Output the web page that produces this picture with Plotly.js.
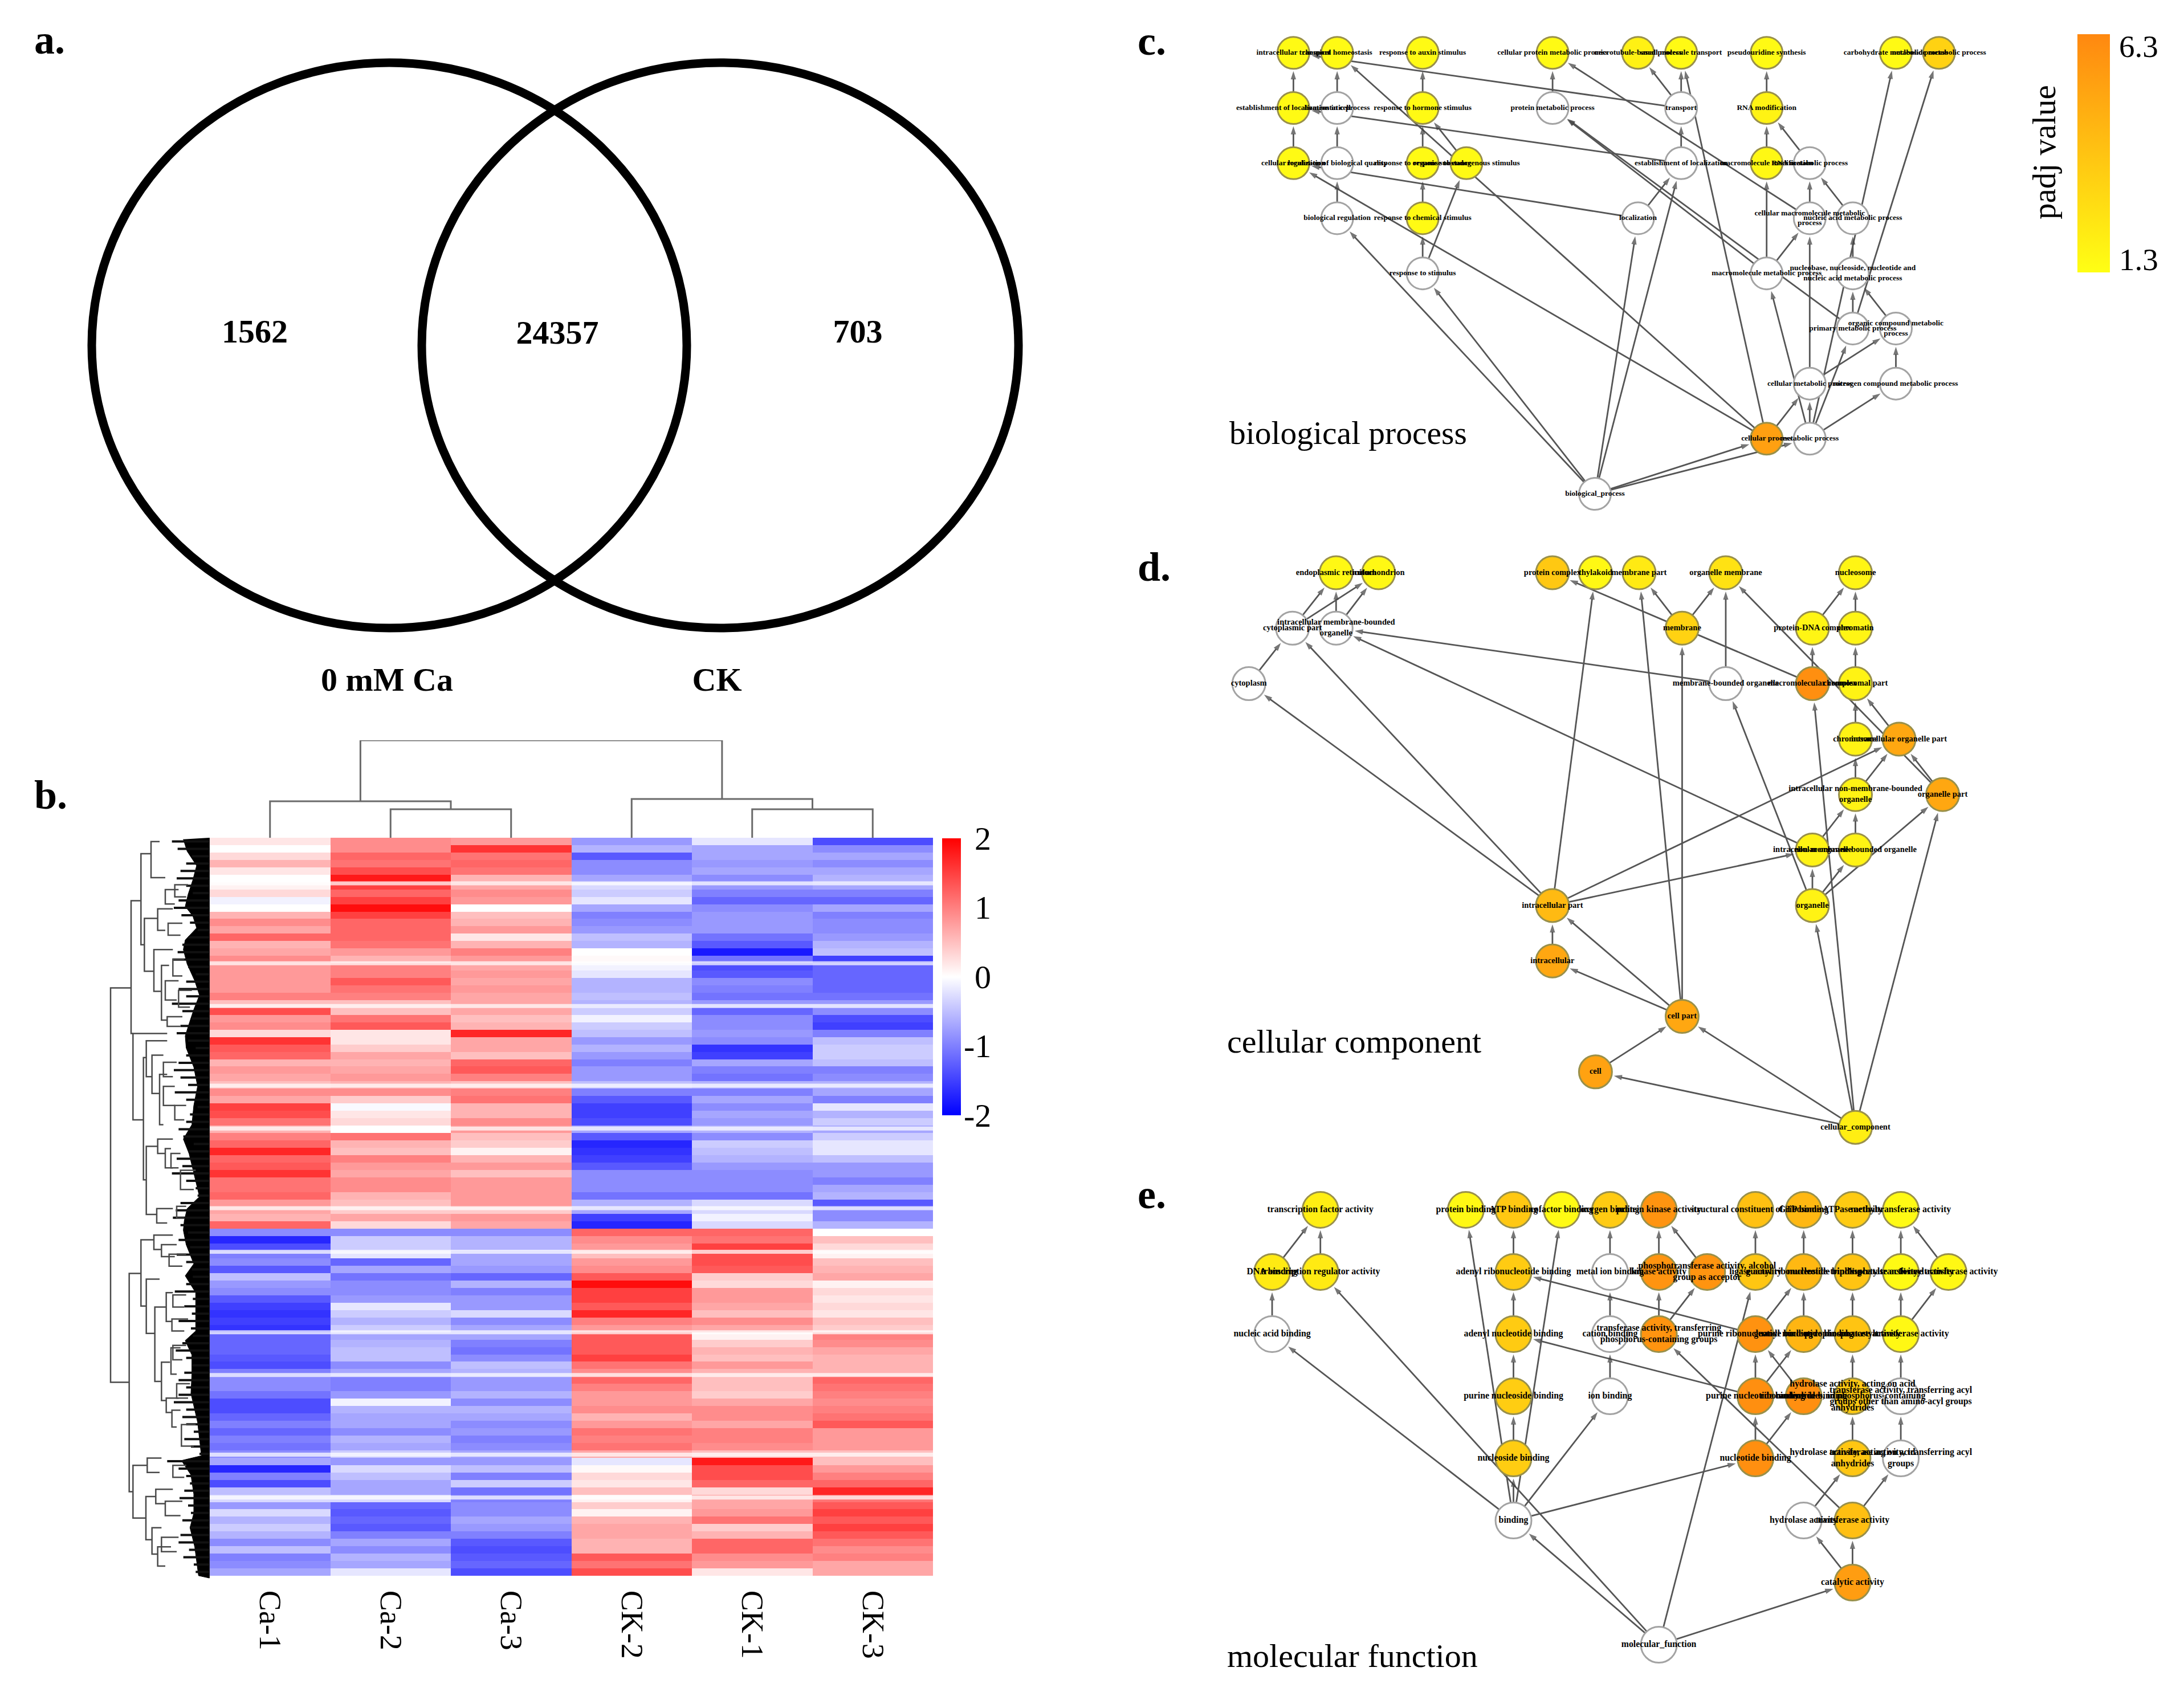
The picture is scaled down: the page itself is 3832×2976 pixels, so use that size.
<!DOCTYPE html>
<html><head><meta charset="utf-8">
<script src="https://cdn.plot.ly/plotly-3.0.1.min.js"></script>
<style>html,body{margin:0;padding:0;background:#fff}</style></head>
<body><div id="chart" style="width:3832px;height:2976px"></div>
<script>
const W=3832,H=2976,SERIF='"Liberation Serif","Times New Roman",serif';

/* ---------- panel a: Venn ---------- */
const vennCounts=['1562','24357','703'];
const vennCountX=[447,978,1505];
const vennCountY=[586,588,586];
const vennSetNames=['0 mM Ca','CK'];
const vennSetX=[679,1258];
const vennSetY=[1197,1197];
const vennCircleX0=[161,740], vennCircleX1=[1205,1787];
const vennCircleY0=[110,110], vennCircleY1=[1102,1102];

/* ---------- panel b: heat map ---------- */
const sampleNames=['Ca-1','Ca-2','Ca-3','CK-2','CK-1','CK-3'];
const heatRows=[
[0.2,0.9,0.8,-0.8,-0.2,-1.4],[0.0,0.9,1.6,-0.6,-0.7,-0.9],[0.3,1.2,1.1,-1.3,-0.7,-0.7],[0.6,1.1,1.2,-0.9,-0.8,-0.9],[0.2,1.4,1.1,-0.9,-0.7,-0.7],
[0.0,1.8,0.6,-0.7,-0.9,-0.6],[0.1,1.5,0.7,-0.3,-0.8,-0.7],[0.3,1.2,0.9,-0.4,-1.0,-1.0],[-0.1,1.5,0.8,-0.2,-1.2,-1.2],[0.0,1.9,0.0,-0.7,-0.9,-0.7],
[0.6,1.5,0.5,-1.0,-0.8,-1.0],[0.9,1.2,0.6,-0.9,-0.8,-0.9],[0.7,1.2,0.8,-0.8,-0.8,-0.9],[1.2,1.2,0.2,-0.5,-1.1,-0.8],[0.6,1.1,0.6,-0.6,-1.3,-0.6],
[0.7,0.8,1.0,0.0,-1.8,-0.5],[0.9,0.6,0.8,0.05,-1.1,-1.5],[0.8,1.0,0.7,-0.1,-1.4,-1.2],[0.8,1.0,0.8,-0.2,-1.3,-1.2],[0.8,1.3,0.7,-0.6,-0.9,-1.2],
[0.8,1.1,0.8,-0.6,-1.0,-1.2],[1.0,1.0,0.7,-0.5,-1.1,-1.1],[0.5,0.5,0.7,-0.6,-0.8,-0.8],[1.4,0.5,0.7,-0.4,-1.2,-0.9],[0.8,1.1,0.5,-0.1,-0.9,-1.4],
[0.9,1.3,0.6,-0.4,-0.9,-1.5],[0.3,0.2,1.7,-0.5,-0.8,-1.0],[1.6,0.2,0.7,-0.8,-0.9,-0.5],[1.3,0.4,0.7,-0.6,-1.6,-0.4],[1.2,0.7,0.5,-0.8,-1.5,-0.4],
[0.6,0.6,1.2,-1.0,-0.7,-0.5],[0.8,0.7,1.3,-0.8,-1.0,-1.0],[0.7,0.8,1.0,-0.8,-1.1,-0.9],[0.5,0.6,0.5,-0.5,-0.6,-0.6],[0.9,0.9,1.0,-1.0,-1.0,-0.7],
[0.7,0.4,1.1,-1.3,-0.7,-1.0],[1.5,-0.05,0.6,-1.5,-0.9,-0.2],[1.4,0.2,0.6,-1.5,-0.7,-0.6],[1.1,0.3,0.9,-1.4,-0.8,-0.4],[0.6,0.0,0.8,-0.7,-0.6,-0.7],
[1.0,1.1,0.5,-1.3,-0.9,-0.4],[1.2,0.6,0.4,-1.7,-0.4,-0.2],[1.7,0.5,0.1,-1.6,-0.5,-0.2],[1.2,1.0,0.6,-1.5,-0.6,-0.5],[1.3,0.8,0.8,-1.3,-0.8,-0.8],
[1.6,0.7,0.5,-0.9,-0.9,-0.8],[1.1,0.9,0.8,-0.9,-0.9,-1.0],[1.1,0.9,0.8,-0.9,-0.9,-0.7],[1.2,0.6,0.8,-1.1,-1.1,-0.6],[0.8,0.5,0.8,-0.6,-0.3,-1.3],
[0.7,0.4,0.4,-0.7,-0.3,-0.9],[0.6,0.7,0.8,-1.5,-0.1,-0.9],[1.2,0.3,0.7,-1.7,-0.3,-0.6],[-0.9,-0.9,-0.9,1.2,1.2,0.0],[-1.7,-0.4,-0.6,0.9,1.1,0.5],
[-1.4,-0.4,-0.6,0.8,1.5,0.3],[-1.0,-0.2,-0.7,0.5,1.4,0.1],[-0.9,-1.2,-0.7,0.8,1.4,0.5],[-1.3,-0.7,-0.8,0.9,1.3,0.6],[-0.5,-1.1,-1.2,1.3,0.4,0.7],
[-0.8,-0.9,-0.6,1.9,0.3,0.1],[-0.9,-0.9,-1.0,1.5,0.8,0.3],[-1.3,-0.8,-0.8,1.5,0.8,0.2],[-1.5,-0.2,-0.8,1.3,0.7,0.3],[-1.6,-0.4,-0.3,1.7,0.5,0.2],
[-1.5,-0.6,-0.9,1.0,0.9,0.5],[-1.6,-0.4,-0.7,0.8,0.7,0.4],[-1.2,-0.7,-0.7,1.3,0.1,1.0],[-1.2,-0.6,-1.0,1.3,0.4,0.9],[-1.2,-0.5,-1.1,1.3,0.6,0.7],
[-1.3,-0.5,-0.9,1.5,0.5,0.6],[-1.4,-0.9,-0.5,1.1,0.8,0.6],[-1.0,-0.7,-0.6,0.9,0.6,0.6],[-0.9,-1.0,-0.8,1.2,0.5,1.2],[-0.9,-1.0,-0.8,1.0,0.5,1.1],
[-1.1,-0.8,-0.6,0.8,0.4,1.0],[-1.4,-0.1,-0.9,0.8,0.7,0.9],[-1.4,-0.6,-0.6,0.9,0.9,1.0],[-1.2,-0.7,-0.7,0.6,0.9,1.1],[-1.0,-0.7,-0.9,0.8,0.7,1.3],
[-1.2,-0.9,-0.8,1.1,1.0,0.8],[-1.0,-0.6,-1.0,1.0,1.0,0.8],[-1.1,-0.7,-0.9,1.1,0.9,0.8],[-0.9,-0.4,-0.7,0.7,0.5,0.5],[-0.7,-0.8,-0.8,-0.2,1.8,0.5],
[-1.7,-0.3,-0.5,0.05,1.4,0.8],[-1.0,-0.5,-1.0,0.3,1.4,1.0],[-1.4,-0.7,-0.4,0.2,1.2,1.2],[-0.5,-0.7,-1.1,0.5,0.3,1.7],[-0.3,-0.3,-1.0,0.1,0.7,1.1],
[-0.8,-1.2,-0.9,0.4,0.7,1.3],[-0.3,-1.3,-0.9,0.1,0.8,1.5],[-0.6,-1.2,-0.7,0.6,1.1,1.3],[-0.4,-1.3,-0.8,0.7,0.4,1.5],[-0.6,-1.0,-1.0,0.7,0.6,1.3],
[-0.9,-0.7,-1.3,0.6,1.2,1.1],[-0.5,-0.9,-1.4,0.6,1.2,0.9],[-1.0,-0.6,-1.3,1.3,0.9,1.0],[-0.9,-0.7,-1.2,1.1,0.8,0.7],[-0.7,-0.2,-1.4,1.4,0.2,0.7]];
const heatTicks=['2','1','0','-1','-2'];
const heatTickValues=[2,1,0,-1,-2];
/* pale separators that cross all six columns, as row positions */
const paleLineRows=[5.68,16.5,22.3,33.1,38.9,49.7,55.6,66.5,72.3,83.1,88.9];

/* column dendrogram */
const colMergeLeft=[1,0,4,3,0.75], colMergeRight=[2,1.5,5,4.5,3.75];
const colMergeHeight=[50,64,50,68,171];
const colMergeChildL=[0,0,0,0,64], colMergeChildR=[0,50,0,50,68];

/* row dendrogram brackets */
const rowBranchDist=[72,180,190,232,285,250,320,300,340,245,260,290,330,260,320,315,360,170,232,300,260,305,340,190,265,258,310,290,320,365,395,365,390,
 360,410,375,360,400,430,370,350,410,350,390,440,420,340,380,400,395,400,420,445,400,360,340];
const rowBranchTop=[325,143,420,45,20,180,160,245,278,470,435,465,505,655,640,785,660,920,850,840,932,990,1105,1320,1305,1385,1370,1450,1490,1180,1205,960,1075,
 120,110,190,310,265,330,385,530,570,480,670,705,780,860,880,965,1015,1070,1150,1235,1320,1395,1470];
const rowBranchBottom=[1147,420,600,235,95,290,205,332,392,725,510,545,610,797,670,815,700,1375,988,870,1045,1145,1185,1430,1335,1475,1400,1505,1530,1210,1240,1020,1130,
 150,135,215,350,300,365,405,570,600,510,700,745,805,885,905,990,1040,1100,1180,1280,1345,1425,1500];
const rowBranchEndTop=[180,232,370,285,330,320,400,400,380,260,370,350,370,320,400,400,390,232,300,400,330,365,385,265,340,310,400,340,390,430,440,400,440,
 430,480,450,430,460,500,450,410,470,420,440,520,470,420,470,470,480,470,490,520,470,450,430];
const rowBranchEndBottom=[170,190,245,250,360,300,360,340,370,260,290,330,350,315,360,370,400,190,260,340,305,340,365,258,330,290,360,320,360,395,420,395,420,
 410,470,440,420,450,490,440,410,460,400,430,510,460,410,450,460,460,450,480,510,460,440,420];
const leafEdgeY=[15,40,70,100,130,155,175,200,225,245,275,310,340,370,400,425,450,490,530,570,610,640,670,710,760,785,810,830,860,900,925,960,1000,1040,1060,1090,1130,1170,1230,1300,1310,1340,1380,1420,1450,1490,1550];
const leafEdgeX=[455,475,525,505,480,465,505,525,465,455,475,515,540,510,485,465,470,510,530,510,500,455,485,510,540,475,460,455,470,510,465,520,520,520,465,500,500,495,530,550,445,495,510,510,490,515,535];
/* how far each row's leaves reach to the left */
const leafReach=[395,425,500,470,440,420,470,505,430,405,445,490,530,480,450,425,400,480,520,470,430,470,395,450,500,440,420,480,520,470,430,405,440,480,410,470,530,490,470,430,
 455,510,480,420,450,395,470,520,530,440,415,400,440,480,430,490,420,470,500,505,470,410,505,460,500,430,495,505,450,415,470,500,460,430,470,430,405,470,450,470,
 510,460,495,540,370,430,470,490,460,435,480,495,450,490,440,430,485,455,510,520];

/* ---------- panel c: biological process ---------- */
const cIds=['it','ch','ax','cp','mb','mt','ps','cb','nm','el','ho','hm','pm','tr','rm','cl','bq','os','en','eo','mm','rn','br','rc','lo','cm','na','rs','ma','nb','pr','oc','ce','nc','cs','me','bp'];
const cLabels=['intracellular transport','chemical homeostasis','response to auxin stimulus','cellular protein metabolic process','microtubule-based process','small molecule transport','pseudouridine synthesis','carbohydrate metabolic process','nucleoside metabolic process',
 'establishment of localization in cell','homeostatic process','response to hormone stimulus','protein metabolic process','transport','RNA modification',
 'cellular localization','regulation of biological quality','response to organic substance','response to endogenous stimulus','establishment of localization','macromolecule modification','RNA metabolic process',
 'biological regulation','response to chemical stimulus','localization','cellular macromolecule metabolic<br>process','nucleic acid metabolic process',
 'response to stimulus','macromolecule metabolic process','nucleobase, nucleoside, nucleotide and<br>nucleic acid metabolic process',
 'primary metabolic process','organic compound metabolic<br>process','cellular metabolic process','nitrogen compound metabolic process','cellular process','metabolic process','biological_process'];
const cColumns=[245,310,437,630,757,821,948,1140,1204,245,310,437,630,821,948,245,310,437,502,821,948,1012,310,437,757,1012,1076,437,948,1076,1076,1140,1012,1140,948,1012,693];
const cLevels=[0,0,0,0,0,0,0,0,0,1,1,1,1,1,1,2,2,2,2,2,2,2,3,3,3,3,3,4,4,4,5,5,6,6,7,7,8];
const cPadj=[1.5,1.5,1.5,1.5,1.9,1.5,1.5,1.5,3.2,1.5,null,1.5,null,null,1.8,1.5,null,1.5,1.5,null,1.6,null,null,1.5,null,null,null,null,null,null,null,null,null,null,5.3,null,null];
const cEdges=['el>it','ho>ch','hm>ax','pm>cp','tr>mb','tr>mt','tr>it','cs>mt','eo>el','lo>cl','mm>rm','rm>ps','cs>ch','cs>cl','bp>br','bp>rs','bp>lo','bp>eo','bp>cs','bp>me','br>bq','bq>ho','rs>rc','rs>en','rc>os','os>hm','en>hm','lo>eo','eo>tr','cl>el','cm>cp','ma>pm','ma>cm','ma>mm','pr>pm','na>rn','cm>rn','rn>rm','nb>na','me>cb','pr>nm','oc>nb','pr>nb','ce>cm','ce>oc','nc>oc','me>ce','me>nc','me>pr','me>ma','cs>ce'];

/* ---------- panel d: cellular component ---------- */
const dIds=['er','mi','pc','th','mp','om','nu','cy','im','mb','pd','ca','cm','mo','mc','cp','ch','ip','inm','op','io','nm','ic','og','in','ce','cl','cc'];
const dLabels=['endoplasmic reticulum','mitochondrion','protein complex','thylakoid','membrane part','organelle membrane','nucleosome',
 'cytoplasmic part','intracellular membrane-bounded<br>organelle','membrane','protein-DNA complex','chromatin',
 'cytoplasm','membrane-bounded organelle','macromolecular complex','chromosomal part',
 'chromosome','intracellular organelle part','intracellular non-membrane-bounded<br>organelle','organelle part',
 'intracellular organelle','non-membrane-bounded organelle','intracellular part','organelle','intracellular','cell part','cell','cellular_component'];
const dColumns=[357,430,729,803,878,1027,1250,282,357,952,1176,1250,207,1027,1176,1250,1250,1325,1250,1400,1176,1250,729,1176,729,952,803,1250];
const dLevels=[0,0,0,0,0,0,0,1,1,1,1,1,2,2,2,2,3,3,4,4,5,5,6,6,7,8,9,10];
const dPadj=[1.6,1.6,3.6,1.6,2.2,2.5,1.7,null,null,3.2,1.7,1.7,null,null,6.0,1.8,1.8,5.0,1.8,5.0,1.8,1.8,4.2,1.8,5.0,5.0,5.2,2.0];
const dEdges=['cm>cy','cy>er','cy>mi','im>er','im>mi','mo>im','mo>om','mc>pc','mc>pd','mb>mp','mb>om','pd>nu','ca>nu','cp>ca','op>om','op>ip','ip>cp','ch>cp','inm>ch','inm>ip','nm>inm','io>inm','io>im','og>io','og>nm','og>op','og>mo','ic>cm','ic>cy','ic>th','ic>ip','ic>io','in>ic','ce>in','ce>ic','ce>mp','ce>mb','cl>ce','cc>cl','cc>ce','cc>og','cc>mc','cc>op'];

/* ---------- panel e: molecular function ---------- */
const eIds=['tf','pb','atp','cf','ox','pk','sc','gtp','apa','mt','dna','tr','ar','ml','ki','ph','li','gr','nt','na','ay','nab','an','cat','tp','pr','gn','pp','at','pn','io','pnb','rb','hp','ta','ns','nb','ha','tg','bi','hy','tn','ca','mf'];
const eLabels=['transcription factor activity','protein binding','ATP binding','cofactor binding','oxygen binding','protein kinase activity','structural constituent of ribosome','GTP binding','ATPase activity','methyltransferase activity',
 'DNA binding','transcription regulator activity','adenyl ribonucleotide binding','metal ion binding','kinase activity','phosphotransferase activity, alcohol<br>group as acceptor','ligase activity','guanyl ribonucleotide binding','nucleoside-triphosphatase activity','N-acetyltransferase activity','N-acyltransferase activity',
 'nucleic acid binding','adenyl nucleotide binding','cation binding','transferase activity, transferring<br>phosphorus-containing groups','purine ribonucleotide binding','guanyl nucleotide binding','pyrophosphatase activity','acetyltransferase activity',
 'purine nucleoside binding','ion binding','purine nucleotide binding','ribonucleotide binding','hydrolase activity, acting on acid<br>anhydrides, in phosphorus-containing<br>anhydrides','transferase activity, transferring acyl<br>groups other than amino-acyl groups',
 'nucleoside binding','nucleotide binding','hydrolase activity, acting on acid<br>anhydrides','transferase activity, transferring acyl<br>groups',
 'binding','hydrolase activity','transferase activity','catalytic activity','molecular_function'];
const eColumns=[330,580,662,745,828,912,1078,1161,1245,1328,247,330,662,828,912,995,1078,1161,1245,1328,1410,247,662,828,912,1078,1161,1245,1328,662,828,1078,1161,1245,1328,662,1078,1245,1328,662,1161,1245,1245,912];
const eLevels=[0,0,0,0,0,0,0,0,0,0,1,1,1,1,1,1,1,1,1,1,1,2,2,2,2,2,2,2,2,3,3,3,3,3,3,4,4,4,4,5,5,5,6,7];
const ePadj=[2.0,1.6,3.6,1.5,3.5,5.8,3.9,4.3,3.5,1.5,2.2,2.2,3.5,null,5.8,5.8,3.7,4.3,3.8,1.5,1.6,null,3.5,null,5.8,5.9,4.4,3.8,1.6,3.4,null,6.0,6.0,3.6,null,3.4,6.0,3.7,null,null,null,4.0,5.4,null];
const eEdges=['tr>tf','dna>tf','nab>dna','bi>nab','mf>tr','mf>bi','mf>li','mf>ca','bi>ns','bi>pb','bi>cf','bi>io','bi>nb','ns>pn','pn>an','an>ar','ar>atp','pnb>an','pr>ar','io>cat','cat>ml','ml>ox','ki>pk','tp>ki','ph>pk','tp>ph','li>sc','gr>gtp','gn>gr','pr>gr','pnb>pr','pnb>gn','rb>pr','nb>pnb','nb>rb','tn>tp','tn>tg','hy>ha','ca>hy','ca>tn','ha>hp','hp>pp','pp>nt','nt>apa','tg>ta','ta>at','at>na','na>mt','at>ay','ay>mt'];

const padjLow='1.3', padjHigh='6.3';
const padjMin=1.3, padjMax=6.3;

/* ---------- layout helpers ---------- */
const fx=p=>p/W, fy=p=>1-p/H;
const dx=(a,b)=>[a/W,b/W], dy=(a,b)=>[1-b/H,1-a/H];
const hidden={visible:false,fixedrange:true,showgrid:false,zeroline:false};
const notes=[];
function note(text,x,y,size,o){notes.push(Object.assign({text,x:fx(x),y:fy(y),xref:'paper',yref:'paper',showarrow:false,xanchor:'left',yanchor:'middle',font:{family:SERIF,size,color:'#000'}},o||{}));}

const traces=[];
/* Venn */
traces.push({type:'scatter',mode:'text',xaxis:'x',yaxis:'y',x:vennCountX,y:vennCountY,text:vennCounts,textposition:'middle center',textfont:{family:SERIF,size:58,color:'#000',weight:700},cliponaxis:false,hoverinfo:'skip',showlegend:false});
traces.push({type:'scatter',mode:'text',xaxis:'x',yaxis:'y',x:vennSetX,y:vennSetY,text:vennSetNames,textposition:'middle center',textfont:{family:SERIF,size:58,color:'#000',weight:700},cliponaxis:false,hoverinfo:'skip',showlegend:false});
const shapes=vennCircleX0.map((v,i)=>({type:'circle',xref:'x',yref:'y',x0:v,x1:vennCircleX1[i],y0:vennCircleY0[i],y1:vennCircleY1[i],line:{color:'#000',width:15},fillcolor:'rgba(0,0,0,0)'}));
paleLineRows.forEach(r=>shapes.push({type:'line',xref:'x2',yref:'y2',x0:-0.5,x1:5.5,y0:r,y1:r,line:{color:'rgba(255,255,255,0.72)',width:7}}));

/* Heat map */
traces.push({type:'heatmap',xaxis:'x2',yaxis:'y2',z:heatRows,x:sampleNames.map((_,i)=>i),zmin:-2,zmax:2,zsmooth:false,
 colorscale:[[0,'#0000ff'],[0.5,'#ffffff'],[1,'#ff0000']],hoverinfo:'skip',
 colorbar:{x:fx(1653),xanchor:'left',xpad:0,ypad:0,y:fy(1471),yanchor:'top',thickness:33,thicknessmode:'pixels',len:486,lenmode:'pixels',outlinewidth:0,borderwidth:0,ticks:'',showticklabels:false,tickvals:heatTickValues}});
heatTicks.forEach((t,i)=>note(t,1741,1471+i*121.5,58,{xanchor:'right'}));

/* Column dendrogram */
const colX=[],colY=[];
colMergeHeight.forEach((h,i)=>{colX.push(colMergeLeft[i],colMergeLeft[i],colMergeRight[i],colMergeRight[i],null);colY.push(colMergeChildL[i],h,h,colMergeChildR[i],null);});
traces.push({type:'scatter',mode:'lines',xaxis:'x3',yaxis:'y3',x:colX,y:colY,line:{color:'#6a6a6a',width:3},hoverinfo:'skip',showlegend:false});

/* Row dendrogram */
traces.push({type:'scatter',mode:'lines',xaxis:'x4',yaxis:'y4',x:leafEdgeX.concat([592,592]),y:leafEdgeY.concat([1555,12]),fill:'toself',fillcolor:'#000',line:{color:'#000',width:1},hoverinfo:'skip',showlegend:false});
const lx=[],ly=[];
leafReach.forEach((v,r)=>{const yy=(10+(r+0.5)*12.95)/0.842;lx.push(v,592,null);ly.push(yy,yy,null);});
traces.push({type:'scatter',mode:'lines',xaxis:'x4',yaxis:'y4',x:lx,y:ly,line:{color:'#111',width:4},hoverinfo:'skip',showlegend:false});
const rx=[],ry=[];
rowBranchDist.forEach((d,i)=>{rx.push(rowBranchEndTop[i],d,d,rowBranchEndBottom[i],null);ry.push(rowBranchTop[i],rowBranchTop[i],rowBranchBottom[i],rowBranchBottom[i],null);});
traces.push({type:'scatter',mode:'lines',xaxis:'x4',yaxis:'y4',x:rx,y:ry,line:{color:'#4a4a4a',width:2.5},hoverinfo:'skip',showlegend:false});

/* Networks */
function network(ax,ay,ids,labels,cols,levels,padj,edges,size,fontSize){
 const idx={};ids.forEach((k,i)=>idx[k]=i);
 const ex=[],ey=[],ms=[],st=[];
 edges.forEach(e=>{const [a,b]=e.split('>').map(k=>idx[k]);
   ex.push(cols[a],cols[b],null);ey.push(levels[a],levels[b],null);ms.push(0,15,0);st.push(0,size/2+4,0);});
 traces.push({type:'scatter',mode:'lines+markers',xaxis:ax,yaxis:ay,x:ex,y:ey,line:{color:'#555',width:2.8},
   marker:{symbol:'arrow',angleref:'previous',size:ms,standoff:st,color:'#3c3c3c',line:{width:0}},cliponaxis:false,connectgaps:false,hoverinfo:'skip',showlegend:false});
 const pick=f=>ids.map((_,i)=>i).filter(f);
 const blank=pick(i=>padj[i]===null), full=pick(i=>padj[i]!==null);
 traces.push({type:'scatter',mode:'markers',xaxis:ax,yaxis:ay,x:blank.map(i=>cols[i]),y:blank.map(i=>levels[i]),
   marker:{size,color:'#fff',line:{color:'#a3a3a3',width:3}},cliponaxis:false,hoverinfo:'skip',showlegend:false});
 traces.push({type:'scatter',mode:'markers',xaxis:ax,yaxis:ay,x:full.map(i=>cols[i]),y:full.map(i=>levels[i]),
   marker:{size,color:full.map(i=>padj[i]),coloraxis:'coloraxis',line:{color:'#99904a',width:3}},cliponaxis:false,hoverinfo:'skip',showlegend:false});
 traces.push({type:'scatter',mode:'text',xaxis:ax,yaxis:ay,x:cols,y:levels,text:labels,textposition:'middle center',
   textfont:{family:SERIF,size:fontSize,color:'#000',weight:700},cliponaxis:false,hoverinfo:'skip',showlegend:false});
}
network('x5','y5',cIds,cLabels,cColumns,cLevels,cPadj,cEdges,56,13.5);
network('x6','y6',dIds,dLabels,dColumns,dLevels,dPadj,dEdges,58,14.5);
network('x7','y7',eIds,eLabels,eColumns,eLevels,ePadj,eEdges,63,15.8);

/* Text outside the axes */
const letterFont={family:SERIF,size:72,color:'#000',weight:700};
note('a.',58,70,72,{font:letterFont});
note('b.',58,1395,72,{font:letterFont});
note('c.',1994,72,72,{font:letterFont});
note('d.',1994,995,72,{font:letterFont});
note('e.',1994,2096,72,{font:letterFont});
note('biological process',2155,759,57.5);
note('cellular component',2151,1827,58);
note('molecular function',2151,2905,58);
note('padj value',3586,267,57,{textangle:-90,xanchor:'center'});
note(padjHigh,3716,81,55);
note(padjLow,3716,456,55);

const layout={width:W,height:H,margin:{l:0,r:0,t:0,b:0},paper_bgcolor:'#fff',plot_bgcolor:'rgba(0,0,0,0)',showlegend:false,
 shapes,annotations:notes,font:{family:SERIF},
 coloraxis:{cmin:padjMin,cmax:padjMax,colorscale:[[0,'#ffff14'],[1,'#ff8810']],
   colorbar:{x:fx(3645),xanchor:'left',xpad:0,ypad:0,y:fy(60),yanchor:'top',thickness:57,thicknessmode:'pixels',len:418,lenmode:'pixels',outlinewidth:0,borderwidth:0,ticks:'',showticklabels:false}},
 xaxis:{...hidden,anchor:'y',domain:dx(0,1900),range:[0,1900]},
 yaxis:{...hidden,anchor:'x',domain:dy(0,1250),range:[1250,0]},
 xaxis2:{anchor:'y2',side:'bottom',domain:dx(368,1637),range:[-0.5,5.5],fixedrange:true,showgrid:false,zeroline:false,showline:false,tickmode:'array',tickvals:sampleNames.map((_,i)=>i),ticktext:sampleNames,tickangle:90,ticks:'outside',ticklen:14,tickcolor:'rgba(0,0,0,0)',tickfont:{family:SERIF,size:54,color:'#000'}},
 yaxis2:{...hidden,anchor:'x2',domain:dy(1470,2765),range:[99.5,-0.5]},
 xaxis3:{...hidden,anchor:'y3',domain:dx(368,1637),range:[-0.5,5.5]},
 yaxis3:{...hidden,anchor:'x3',domain:dy(1299,1470),range:[0,171]},
 xaxis4:{...hidden,anchor:'y4',domain:dx(170,380),range:[0,630]},
 yaxis4:{...hidden,anchor:'x4',domain:dy(1460,2780),range:[1568,0]},
 xaxis5:{...hidden,anchor:'y5',domain:dx(1980,3832),range:[0,1568]},
 yaxis5:{...hidden,anchor:'x5',domain:dy(30,930),range:[8.656,-0.65]},
 xaxis6:{...hidden,anchor:'y6',domain:dx(1980,3580),range:[0,1568]},
 yaxis6:{...hidden,anchor:'x6',domain:dy(950,2020),range:[10.43,-0.565]},
 xaxis7:{...hidden,anchor:'y7',domain:dx(1980,3580),range:[0,1568]},
 yaxis7:{...hidden,anchor:'x7',domain:dy(2050,2970),range:[7.77,-0.67]}
};
Plotly.newPlot('chart',traces,layout,{displayModeBar:false,staticPlot:true});
</script></body></html>
